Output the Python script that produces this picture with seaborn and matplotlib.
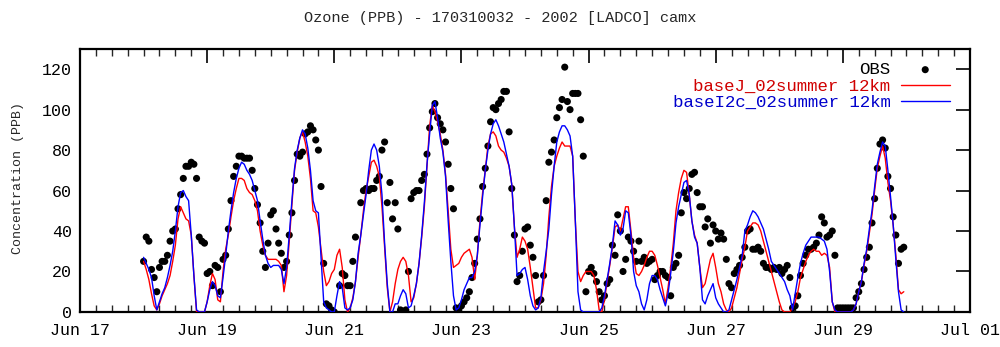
import numpy as np
import pandas as pd
import matplotlib
matplotlib.use("Agg")
import matplotlib.pyplot as plt
import matplotlib.dates as mdates
import seaborn as sns

nan = np.nan

title = "Ozone (PPB) - 170310032 - 2002 [LADCO] camx"
ylabel = "Concentration (PPB)"
series_labels = ["OBS", "baseJ_02summer 12km", "baseI2c_02summer 12km"]
start_time = "2002-06-18 00:00"
x_ticks = ["2002-06-17", "2002-06-19", "2002-06-21", "2002-06-23",
           "2002-06-25", "2002-06-27", "2002-06-29", "2002-07-01"]
y_ticks = [0, 20, 40, 60, 80, 100, 120]

# hourly observations (ppb), one row per day Jun 18 .. Jun 29
obs_ppb = [
    25, 37, 35, 21, 17, 10, 22, 25, 25, 28, 35, 40, 41, 51, 58, 66, 72, 72, 74, 73, 66, 37, 35, 34,
    19, 20, 13, 23, 22, 10, 26, 28, 41, 55, 67, 72, 77, 77, 76, 76, 76, 70, 61, 53, 44, 30, 22, 34,
    48, 50, 41, 34, 29, 22, 25, 38, 49, 65, 78, 77, 79, 88, 89, 92, 90, 85, 80, 62, 24, 4, 3, 1,
    0, nan, 13, 19, 18, 13, 13, 25, 37, nan, 54, 60, 61, 60, 61, 61, 65, 67, 80, 84, 54, 64, 46, 54,
    41, 1, 0, 1, 20, 56, 59, 60, 60, 65, 68, 78, 91, 99, 103, 96, 93, 90, 84, 73, 61, 51, 2, 1,
    3, 5, 7, 10, 17, 24, 36, 46, 62, 71, 82, 94, 101, 100, 103, 105, 109, 109, 89, 61, 38, 15, 18, 30,
    41, 42, 33, 27, 18, 5, 6, 18, 55, 74, 79, 85, 96, 101, 105, 121, 104, 100, 108, 108, 108, 95, 77, 10,
    20, 22, 19, 15, 10, 6, 8, 14, 16, 33, 28, 48, 40, 20, 26, 37, 35, 30, 25, 35, 25, 27, 24, 25,
    26, 16, 18, 20, 20, 18, 17, 8, 22, 24, 28, 49, 59, 56, 61, 68, 69, 59, 52, 52, 42, 46, 34, 43,
    40, 36, 39, 36, 26, 14, 12, 19, 21, 23, 27, 32, 40, 41, 31, 31, 32, 30, 24, 22, 22, 21, 22, 21,
    22, 19, 21, 23, 17, 2, 3, 8, 18, 24, 28, 31, 31, 32, 34, 38, 47, 44, 37, 38, 40, 28, 2, 2,
    2, 2, 2, 2, 2, 7, 10, 14, 21, 27, 32, 44, 56, 71, 83, 85, 81, 67, 61, 47, 38, 24, 31, 32,
]

# model baseJ_02summer 12km (ppb)
basej_ppb = [
    25, 21, 16, 9, 3, 1, 4, 8, 11, 14, 18, 25, 33, 46, 52, 49, 46, 45, 38, 18, 0, 0, 0, 0,
    5, 13, 19, 16, 6, 5, 20, 31, 38, 47, 55, 61, 66, 66, 65, 61, 59, 58, 55, 50, 40, 33, 28, 26,
    26, 26, 26, 25, 23, 10, 18, 35, 53, 70, 79, 86, 89, 84, 77, 66, 50, 49, 42, 31, 20, 13, 15, 19,
    21, 28, 31, 22, 6, 0, 2, 7, 15, 27, 38, 50, 60, 67, 74, 75, 72, 67, 52, 32, 12, 0, 5, 14,
    21, 25, 27, 25, 18, 5, 7, 14, 24, 37, 52, 72, 92, 102, 99, 94, 88, 80, 68, 50, 31, 22, 23, 24,
    27, 29, 30, 31, 27, 16, 28, 45, 59, 70, 82, 88, 89, 87, 82, 80, 79, 76, 72, 63, 42, 27, 31, 37,
    35, 31, 22, 12, 2, 2, 6, 14, 28, 47, 62, 72, 77, 81, 84, 82, 82, 82, 77, 45, 20, 15, 18, 20,
    20, 20, 18, 11, 1, 0, 6, 15, 23, 32, 42, 43, 40, 46, 52, 52, 40, 27, 19, 18, 20, 23, 27, 30,
    30, 28, 23, 17, 11, 4, 12, 22, 34, 50, 59, 66, 70, 69, 58, 45, 38, 34, 22, 12, 14, 20, 26, 29,
    22, 14, 10, 4, 1, 0, 2, 7, 12, 19, 26, 32, 40, 42, 44, 44, 43, 40, 35, 30, 25, 20, 15, 10,
    5, 1, 0, 0, 0, 2, 5, 10, 17, 21, 25, 28, 30, 31, 30, 30, 28, 29, 28, 22, 5, 0, 0, 0,
    0, 0, 0, 0, 1, 4, 10, 15, 23, 30, 39, 48, 60, 71, 77, 82, 76, 64, 55, 43, 28, 11, 9, 10,
]

# model baseI2c_02summer 12km (ppb)
basei2c_ppb = [
    27, 24, 21, 17, 8, 1, 5, 9, 12, 17, 23, 30, 40, 52, 59, 60, 57, 55, 38, 18, 1, 0, 0, 0,
    5, 11, 15, 13, 8, 7, 17, 28, 40, 50, 59, 66, 71, 74, 73, 70, 68, 65, 60, 55, 45, 36, 28, 24,
    22, 23, 23, 23, 21, 14, 22, 38, 55, 71, 80, 86, 90, 88, 81, 70, 55, 50, 49, 27, 5, 2, 1, 0,
    0, 8, 15, 12, 2, 1, 2, 6, 15, 29, 38, 48, 58, 70, 80, 83, 80, 72, 58, 34, 14, 0, 0, 4,
    4, 8, 11, 9, 2, 3, 8, 14, 24, 38, 54, 73, 88, 102, 104, 96, 86, 79, 67, 45, 25, 8, 1, 2,
    6, 11, 14, 17, 17, 20, 28, 43, 57, 70, 80, 88, 93, 95, 92, 88, 84, 78, 72, 63, 42, 18, 19, 21,
    22, 16, 8, 3, 1, 2, 7, 20, 30, 41, 58, 72, 84, 89, 92, 92, 90, 87, 77, 45, 10, 1, 0, 0,
    0, 0, 0, 0, 0, 2, 8, 16, 24, 33, 45, 43, 38, 41, 50, 49, 38, 20, 13, 10, 4, 1, 6, 14,
    18, 18, 16, 11, 7, 3, 9, 19, 30, 44, 52, 58, 64, 65, 58, 45, 37, 34, 22, 6, 4, 8, 11, 14,
    7, 4, 2, 0, 0, 1, 6, 11, 16, 22, 28, 40, 43, 47, 50, 49, 47, 44, 41, 36, 31, 25, 23, 21,
    19, 17, 15, 11, 8, 1, 9, 17, 24, 29, 33, 35, 37, 37, 37, 37, 36, 35, 31, 20, 5, 1, 0, 0,
    0, 0, 0, 0, 1, 4, 10, 15, 24, 31, 41, 50, 62, 73, 79, 84, 82, 70, 57, 43, 26, 10, 1, 0,
]

times = pd.date_range(start_time, periods=len(obs_ppb), freq="h")
df = pd.DataFrame({"time": times, "obs": obs_ppb,
                   "basej": basej_ppb, "basei2c": basei2c_ppb})

sns.set_style("white")
plt.rcParams["font.family"] = ["Liberation Mono", "DejaVu Sans Mono"]

fig = plt.figure(figsize=(10, 3.47), dpi=100)
ax = fig.add_axes([0.08, 0.101, 0.89, 0.758])

sns.scatterplot(data=df.dropna(subset=["obs"]), x="time", y="obs", ax=ax,
                color="black", s=26, edgecolor="none", label=series_labels[0], zorder=2)
sns.lineplot(data=df, x="time", y="basej", ax=ax, color="#ff0000", linewidth=1.0,
             label=series_labels[1], zorder=3)
sns.lineplot(data=df, x="time", y="basei2c", ax=ax, color="#0000ff", linewidth=1.0,
             label=series_labels[2], zorder=4)

ax.set_xlim(pd.Timestamp(x_ticks[0]), pd.Timestamp(x_ticks[-1]))
ax.set_ylim(0, 130)
ax.set_xticks([pd.Timestamp(t) for t in x_ticks])
ax.xaxis.set_major_formatter(mdates.DateFormatter("%b %d"))
ax.xaxis.set_minor_locator(mdates.HourLocator(byhour=[0, 6, 12, 18]))
ax.set_yticks(y_ticks)

ax.tick_params(which="major", direction="in", length=10, width=1.2,
               top=True, right=True, labelsize=12, pad=8, colors="black")
ax.tick_params(which="minor", direction="in", length=5, width=1.0,
               top=True, bottom=True)
ax.tick_params(axis="y", pad=6)
for sp in ax.spines.values():
    sp.set_linewidth(1.6)
    sp.set_color("black")

ax.set_xlabel("")
ax.set_ylabel("")
fig.text(0.5, 1 - 18 / 347, title, ha="center", va="center", fontsize=11)
fig.text(0.018, 1 - 178 / 347, ylabel, ha="center", va="center",
         rotation=90, fontsize=9.5)

handles, labels = ax.get_legend_handles_labels()
ax.legend(handles, labels, loc="upper right", bbox_to_anchor=(0.977, 0.95),
          markerfirst=False, frameon=False, fontsize=12.5,
          labelcolor=["black", "#d00000", "#0000cc"], handlelength=2.8,
          handletextpad=0.6, labelspacing=0.08, borderaxespad=0, borderpad=0)

fig.savefig("out.png", dpi=100)
